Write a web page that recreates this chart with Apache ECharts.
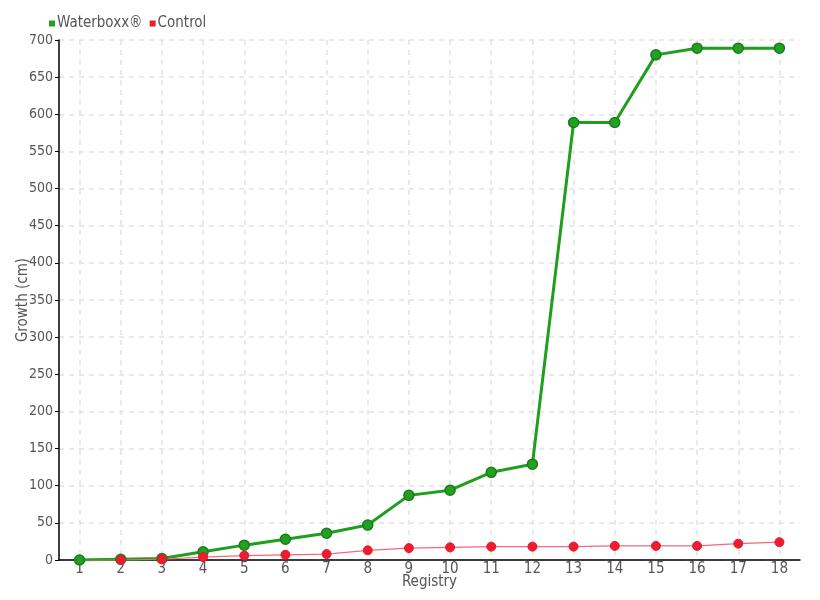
<!DOCTYPE html>
<html><head><meta charset="utf-8">
<script src="https://cdn.jsdelivr.net/npm/echarts@6/dist/echarts.min.js"></script>
<style>html,body{margin:0;padding:0;background:#fff}#c{width:820px;height:600px}</style>
</head><body><div id="c"></div>
<script>
var categories = ['1','2','3','4','5','6','7','8','9','10','11','12','13','14','15','16','17','18'];
var waterboxx = [0, 1, 2, 11, 20, 28, 36, 47, 87, 94, 118, 129, 589, 589, 680, 689, 689, 689];
var control = [-1, 0, 1, 4, 6, 7, 8, 13, 16, 17, 18, 18, 18, 19, 19, 19, 22, 24];
var FONT = '"Liberation Sans Narrow", "DejaVu Sans Condensed", sans-serif';
var chart = echarts.init(document.getElementById('c'));
chart.setOption({
  animation: false,
  textStyle: {fontFamily: FONT},
  legend: {
    left: 44, top: 11, itemWidth: 6, itemHeight: 6, itemGap: 7,
    icon: 'rect',
    textStyle: {color: '#555', fontSize: 15, fontFamily: FONT, padding: [0,0,0,-3]},
    data: [{name: 'Waterboxx®', itemStyle: {color: '#22a022', borderWidth: 0}}, {name: 'Control', itemStyle: {color: '#ee1c2e', borderWidth: 0}}]
  },
  grid: {left: 59, right: 20, top: 40, bottom: 40, containLabel: false, outerBoundsMode: 'none'},
  xAxis: {
    type: 'category', data: categories, boundaryGap: true,
    name: 'Registry', nameLocation: 'middle', nameGap: 15, nameMoveOverlap: false,
    nameTextStyle: {color: '#555', fontSize: 15, fontFamily: FONT},
    axisLine: {lineStyle: {color: '#000', width: 1.5}},
    axisTick: {alignWithLabel: true, length: 5, lineStyle: {color: '#000'}},
    axisLabel: {color: '#555', fontSize: 15, margin: 2, fontFamily: FONT},
    splitLine: {show: true, alignWithLabel: true, lineStyle: {color: '#e2e2e2', type: [5, 5], width: 1.5}}
  },
  yAxis: {
    type: 'value', min: 0, max: 700, interval: 50,
    name: 'Growth (cm)', nameLocation: 'middle', nameGap: 28, nameMoveOverlap: false,
    nameTextStyle: {color: '#555', fontSize: 15, fontFamily: FONT},
    axisLine: {show: true, lineStyle: {color: '#000', width: 1.5}},
    axisTick: {show: true, length: 4, lineStyle: {color: '#000'}},
    axisLabel: {color: '#555', fontSize: 14, margin: 6, fontFamily: FONT},
    splitLine: {show: true, lineStyle: {color: '#e2e2e2', type: [5, 5], width: 1.5}}
  },
  series: [
    {name: 'Waterboxx®', type: 'line', data: waterboxx, symbol: 'circle', symbolSize: 10,
     lineStyle: {color: '#1f9e1f', width: 3},
     itemStyle: {color: '#22a022', borderColor: '#1b7c1b', borderWidth: 1.5}},
    {name: 'Control', type: 'line', data: control, symbol: 'circle', symbolSize: 9,
     lineStyle: {color: '#f06a78', width: 1.2},
     itemStyle: {color: '#ee1c2e', borderColor: '#e01a2a', borderWidth: 1}}
  ]
});
</script></body></html>
